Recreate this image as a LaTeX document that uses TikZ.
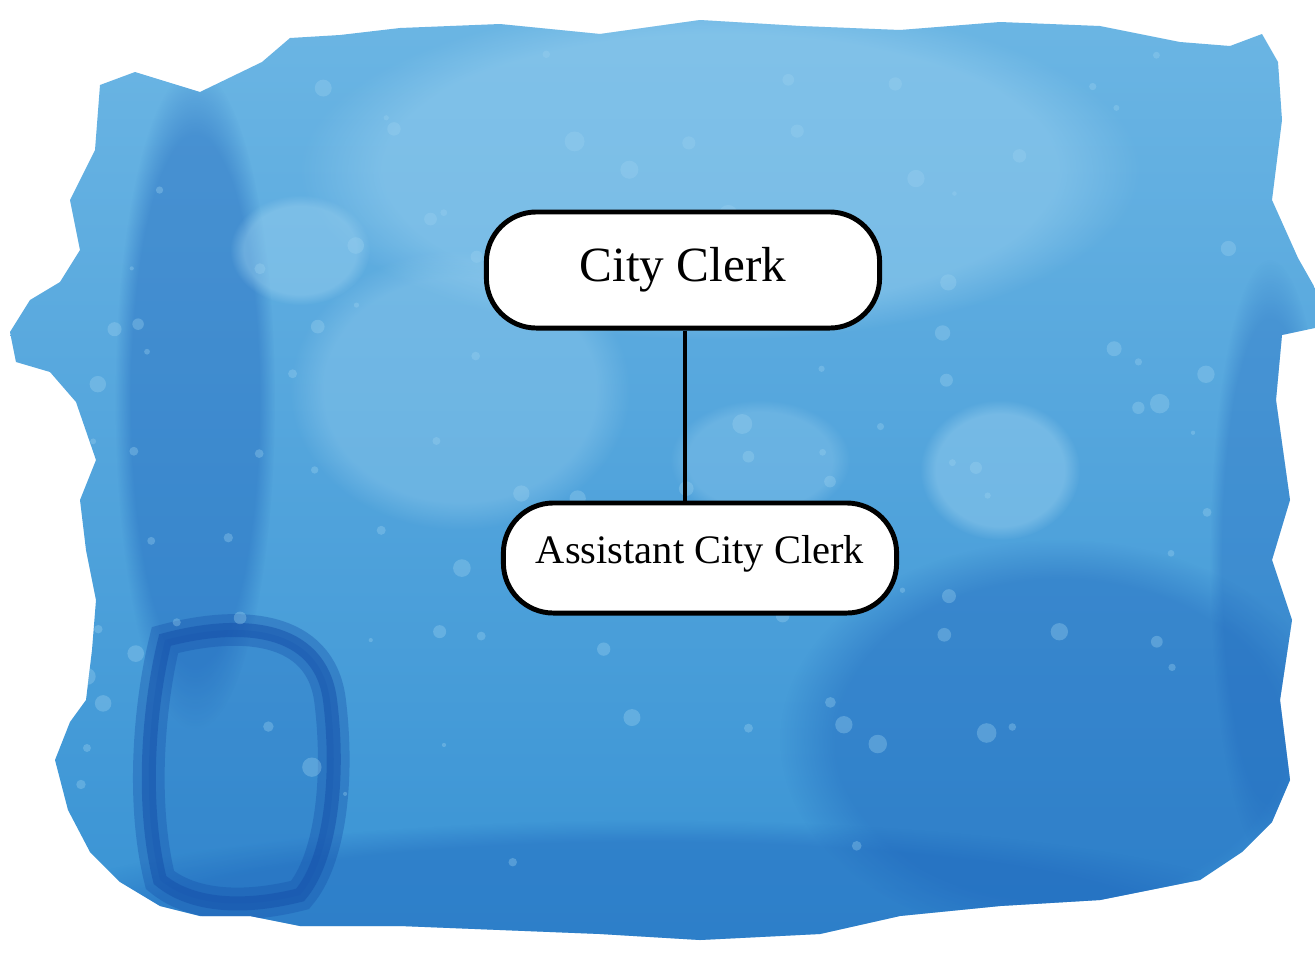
\documentclass[tikz,border=0pt]{standalone}
\usepackage{fontspec}
\setmainfont{Liberation Serif}
\usetikzlibrary{shapes.misc,fadings}
\definecolor{wcmain}{HTML}{3C9AD8}
\definecolor{wclight}{HTML}{9CD2F0}
\definecolor{wcdark}{HTML}{1C62BA}
\definecolor{wcdeep}{HTML}{1550AA}
\tikzset{
  rolebox/.style={draw=black, line width=1.4pt, fill=white, rounded corners=0.5cm,
    minimum width=3.93cm, inner sep=0pt, align=center},
  link/.style={draw=black, line width=1.3pt},
  spot/.style={fill=wclight, opacity=0.35},
  fuzzy/.style={path fading=circle with fuzzy edge 20 percent},
}
\begin{document}
\begin{tikzpicture}[x=0.01cm, y=-0.01cm]
\useasboundingbox (0,0) rectangle (1315,963);
\fill[white] (0,0) rectangle (1315,963);
\def\blob{(100,85) -- (135,72) -- (200,92) -- (262,62) -- (290,38) -- (340,35) -- (400,28) -- (500,24) -- (600,34) -- (700,20) -- (800,26) -- (900,30) -- (1000,22) -- (1100,26) -- (1180,42) -- (1230,46) -- (1262,34) -- (1278,62) -- (1282,120) -- (1272,200) -- (1298,258) -- (1315,288) -- (1315,328) -- (1282,335) -- (1276,400) -- (1290,500) -- (1272,560) -- (1292,620) -- (1280,700) -- (1290,780) -- (1272,822) -- (1242,852) -- (1200,880) -- (1100,900) -- (1000,906) -- (900,916) -- (820,934) -- (700,940) -- (600,934) -- (500,930) -- (400,926) -- (300,926) -- (250,916) -- (200,916) -- (160,906) -- (120,882) -- (90,852) -- (68,810) -- (55,760) -- (70,722) -- (86,700) -- (92,650) -- (96,600) -- (86,550) -- (80,500) -- (96,460) -- (76,402) -- (50,372) -- (16,362) -- (10,332) -- (30,300) -- (60,282) -- (80,250) -- (70,200) -- (95,150) -- cycle}
\begin{scope}
\clip \blob;
\shade[top color=wclight!50!wcmain, bottom color=wcmain!85!wcdark] (0,0) rectangle (1315,963);
% darker left band
\fill[wcdark, opacity=0.4, fuzzy] (195,400) ellipse (80 and 330);
% lighter areas
\fill[wclight, opacity=0.45, fuzzy] (720,170) ellipse (420 and 170);
\fill[wclight, opacity=0.35, fuzzy] (460,390) ellipse (170 and 140);
\fill[wclight, opacity=0.45, fuzzy] (300,250) ellipse (70 and 55);
\fill[wclight, opacity=0.45, fuzzy] (1000,470) ellipse (80 and 70);
\fill[wclight, opacity=0.3, fuzzy] (760,460) ellipse (90 and 60);
% darker lower right and bottom
\fill[wcdark, opacity=0.4, fuzzy] (1060,740) ellipse (280 and 200);
\fill[wcdark, opacity=0.4, fuzzy] (650,930) ellipse (650 and 110);
\fill[wcdark, opacity=0.3, fuzzy] (1270,560) ellipse (60 and 300);
% dark ring bottom left
\def\ring{(165,640) .. controls (240,620) and (320,625) .. (330,700) .. controls (340,780) and (330,860) .. (300,895) .. controls (240,910) and (190,905) .. (160,880) .. controls (140,800) and (150,700) .. (165,640) -- cycle}
\fill[wcdark, opacity=0.25] \ring;
\draw[wcdeep, line width=9pt, opacity=0.35] \ring;
\draw[wcdeep, line width=4pt, opacity=0.5] \ring;
% speckles
\pgfmathsetseed{11}
\foreach \i in {1,...,110} {
  \pgfmathsetmacro{\xx}{80+rnd*1180}
  \pgfmathsetmacro{\yy}{50+rnd*840}
  \pgfmathsetmacro{\rr}{2+rnd*8}
  \fill[spot] (\xx,\yy) circle (\rr);
}
\end{scope}
\node[rolebox, minimum height=1.16cm, font=\fontsize{14}{16}\selectfont] (clerk) at (683,270) {City Clerk};
\node[rolebox, minimum height=1.10cm, font=\fontsize{11.5}{13}\selectfont, text depth=0.18cm] (asst) at (700,558) {Assistant City Clerk};
\draw[link] (clerk.south -| 685,0) -- (asst.north -| 685,0);
\end{tikzpicture}
\end{document}
